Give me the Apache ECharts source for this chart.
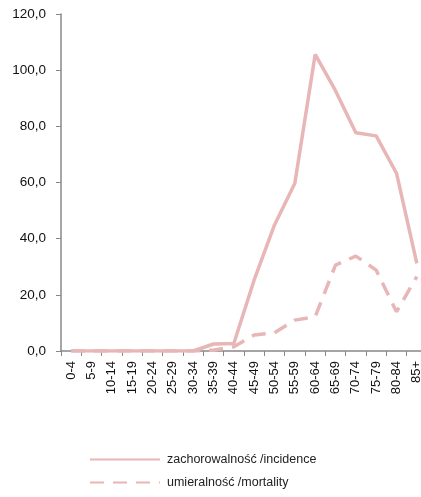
<!DOCTYPE html>
<html><head><meta charset="utf-8">
<script src="https://cdn.jsdelivr.net/npm/echarts@6/dist/echarts.min.js"></script>
<style>html,body{margin:0;padding:0;background:#fff}#c{width:421px;height:497px}</style>
</head><body><div id="c"></div>
<script>
const categories = ['0-4','5-9','10-14','15-19','20-24','25-29','30-34','35-39','40-44','45-49','50-54','55-59','60-64','65-69','70-74','75-79','80-84','85+'];
const incidence = [0,0,0,0,0,0,0,2.5,2.7,25.3,44.9,59.7,105.6,92.7,77.7,76.6,63.3,31.2];
const mortality = [0,0,0,0,0,0,0,0.3,1.5,5.7,6.5,11.0,12.2,30.6,33.8,28.8,14.0,26.5];
const yTicks = [0,20,40,60,80,100,120];
const seriesNames = ['zachorowalność /incidence','umieralność /mortality'];
const color = '#e8b6b6';
const font = 'Liberation Sans';
const chart = echarts.init(document.getElementById('c'));
chart.setOption({
  animation:false,
  textStyle:{fontFamily:font},
  grid:{left:61, top:14, width:366, height:337, outerBoundsMode:'none', containLabel:false},
  legend:{orient:'vertical', left:84, top:448, itemWidth:70, itemHeight:10, itemGap:10,
    textStyle:{fontFamily:font, fontSize:12.5, color:'#222', padding:[0,0,0,2]},
    itemStyle:{opacity:0},
    data:seriesNames},
  xAxis:{type:'category', data:categories, boundaryGap:true,
    axisLine:{lineStyle:{color:'#888', width:1.5}},
    axisTick:{show:true, length:5, lineStyle:{color:'#888'}},
    axisLabel:{rotate:90, interval:0, fontSize:13, color:'#111', margin:10, fontFamily:font}},
  yAxis:{type:'value', min:yTicks[0], max:yTicks[yTicks.length-1], interval:20,
    axisLine:{show:true, lineStyle:{color:'#888', width:1.5}},
    axisTick:{show:true, length:5, lineStyle:{color:'#888'}},
    splitLine:{show:false},
    axisLabel:{fontSize:13.5, color:'#111', margin:15, fontFamily:font,
      formatter:v=>v.toFixed(1).replace('.',',')}},
  series:[
    {name:seriesNames[0], type:'line', data:incidence, symbol:'none',
      lineStyle:{color:color, width:3.5}, itemStyle:{color:color}},
    {name:seriesNames[1], type:'line', data:mortality, symbol:'none',
      lineStyle:{color:color, width:3.5, type:[14,9]}, itemStyle:{color:color}}
  ]
});
</script></body></html>
